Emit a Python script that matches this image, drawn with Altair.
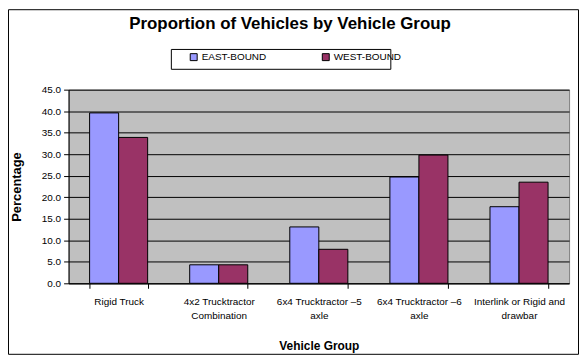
import altair as alt
import pandas as pd

categories = ["Rigid Truck", "4x2 Trucktractor|Combination", "6x4 Trucktractor \u20135|axle",
              "6x4 Trucktractor \u20136|axle", "Interlink or Rigid and|drawbar"]
series = ["EAST-BOUND", "WEST-BOUND"]
east = [39.6, 4.3, 13.1, 24.7, 17.8]
west = [33.9, 4.3, 7.9, 29.8, 23.5]
y_ticks = [0, 5, 10, 15, 20, 25, 30, 35, 40, 45]
colors = ["#9999FF", "#993366"]
title_text = "Proportion of Vehicles by Vehicle Group"

rows = []
for c, e, w in zip(categories, east, west):
    rows.append({"group": c, "dir": series[0], "pct": e})
    rows.append({"group": c, "dir": series[1], "pct": w})
df = pd.DataFrame(rows)

FONT = "Arial, Liberation Sans, sans-serif"
W, H = 504, 195

bars = alt.Chart(df).mark_bar(stroke="black", strokeWidth=1).encode(
    x=alt.X("group:N", sort=categories,
            scale=alt.Scale(paddingInner=0.42, paddingOuter=0.21),
            axis=alt.Axis(title="Vehicle Group", labelAngle=0, tickBand="extent",
                          labelExpr="split(datum.label, '|')", labelFont=FONT, labelFontSize=10,
                          labelColor="black", labelPadding=8, labelLineHeight=14,
                          domainColor="black", tickColor="black", tickSize=5, grid=False,
                          titleFont=FONT, titleFontSize=12, titleFontWeight="bold",
                          titleColor="black", titlePadding=21)),
    xOffset=alt.XOffset("dir:N", sort=series, scale=alt.Scale(paddingInner=0, paddingOuter=0)),
    y=alt.Y("pct:Q", scale=alt.Scale(domain=[0, 45], nice=False),
            axis=alt.Axis(title="Percentage", values=y_ticks, format=".1f", labelFont=FONT,
                          labelFontSize=10, labelColor="black", labelPadding=3,
                          domainColor="black", tickColor="black", tickSize=5,
                          gridColor="black", gridWidth=1, gridOpacity=1,
                          titleFont=FONT, titleFontSize=13, titleFontWeight="bold",
                          titleColor="black", titlePadding=18)),
    color=alt.Color("dir:N", sort=series, scale=alt.Scale(domain=series, range=colors),
                    legend=alt.Legend(title=None, orient="none", legendX=121, legendY=-38,
                                      direction="horizontal", columns=2, symbolType="square",
                                      symbolSize=49, symbolStrokeColor="black",
                                      symbolStrokeWidth=1, labelFont=FONT, labelFontSize=10,
                                      labelColor="black", labelOffset=3, columnPadding=53,
                                      padding=0)),
)

one = pd.DataFrame({"t": [title_text]})
legend_box = alt.Chart(one).mark_rect(fill="white", stroke="black", strokeWidth=1).encode(
    x=alt.value(103.5), x2=alt.value(324.5), y=alt.value(-40.5), y2=alt.value(-20.5))
outer = alt.Chart(one).mark_rect(fill="none", stroke="black", strokeWidth=1).encode(
    x=alt.value(-60.5), x2=alt.value(513.5), y=alt.value(-80.5), y2=alt.value(266.5))
title = alt.Chart(one).mark_text(font=FONT, fontSize=17, fontWeight="bold", color="black",
                                 align="center", baseline="alphabetic").encode(
    text="t:N", x=alt.value(223), y=alt.value(-61))

chart = alt.layer(outer, legend_box, title, bars).properties(
    width=W, height=H,
    padding={"left": 61, "top": 81, "right": 10, "bottom": 75},
    autosize=alt.AutoSizeParams(type="none"),
    background="white",
).configure_view(fill="#C0C0C0", stroke="#808080", strokeWidth=1)

chart.save("out.html", embed_options={"renderer": "svg", "actions": False})
